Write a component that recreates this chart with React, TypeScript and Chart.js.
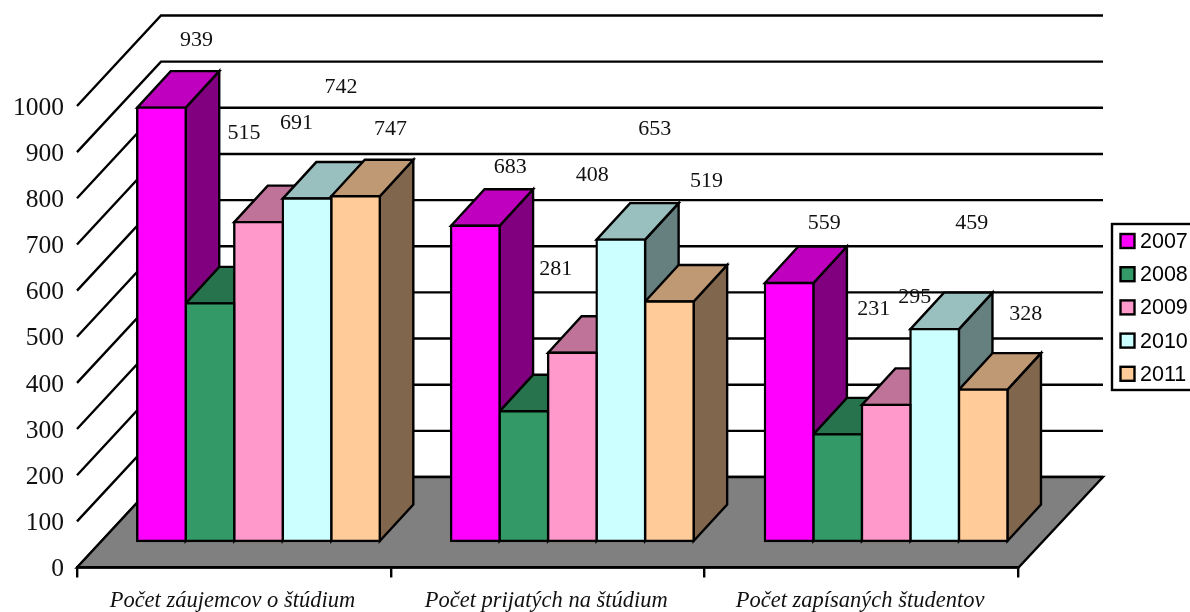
import React, { useEffect, useRef } from "react";
import { Chart, registerables } from "chart.js";

Chart.register(...registerables);

const categories = [
  "Počet záujemcov o štúdium",
  "Počet prijatých na štúdium",
  "Počet zapísaných študentov",
];
const years = ["2007", "2008", "2009", "2010", "2011"];
const values2007 = [939, 683, 559];
const values2008 = [515, 281, 231];
const values2009 = [691, 408, 295];
const values2010 = [742, 653, 459];
const values2011 = [747, 519, 328];
const seriesValues = [values2007, values2008, values2009, values2010, values2011];
const seriesColors = ["#FF00FF", "#339966", "#FF99CC", "#CCFFFF", "#FFCC99"];

// Hand-placed value labels of the original: offset from the bar's top centre, per series / category.
const labelOffsets = [
  [[35, -67.5], [35, -58.5], [35, -59.5]],
  [[34, -170.5], [32, -142.5], [36, -125.5]],
  [[38, -98.5], [20, -177.5], [28.5, -107.5]],
  [[34, -111.5], [34, -110.5], [37, -105.5]],
  [[35, -67.5], [37, -120.5], [42.5, -75.5]],
];

const SERIF = '"Liberation Serif", serif';
const LINE = 2.4;
const WALL_DX = 84;
const WALL_DY = 90.5;
const BAR_SHIFT_X = 24.6;
const BAR_SHIFT_Y = 26.5;
const BAR_DX = 33.5;
const BAR_DY = 36.5;
const WALL_RIGHT = 1103;

function shade(hex: string, f: number) {
  const n = parseInt(hex.slice(1), 16);
  const c = [(n >> 16) & 255, (n >> 8) & 255, n & 255].map((v) => Math.round(v * f));
  return `rgb(${c[0]},${c[1]},${c[2]})`;
}

function poly(ctx: CanvasRenderingContext2D, pts: number[][], fill?: string) {
  ctx.beginPath();
  pts.forEach((p, i) => (i ? ctx.lineTo(p[0], p[1]) : ctx.moveTo(p[0], p[1])));
  ctx.closePath();
  if (fill) {
    ctx.fillStyle = fill;
    ctx.fill();
  }
  ctx.stroke();
}

const box3d = {
  id: "box3d",
  beforeDraw(chart: any) {
    const { ctx, chartArea, scales } = chart;
    const yS = scales.y;
    const L = chartArea.left;
    const R = chartArea.right;
    const B = yS.getPixelForValue(0);
    ctx.save();
    ctx.strokeStyle = "#000";
    ctx.lineWidth = LINE;
    ctx.lineJoin = "miter";
    yS.ticks.forEach((t: any) => {
      const y = yS.getPixelForValue(t.value);
      ctx.beginPath();
      ctx.moveTo(L, y);
      ctx.lineTo(L + WALL_DX, y - WALL_DY);
      ctx.lineTo(WALL_RIGHT, y - WALL_DY);
      ctx.stroke();
    });
    poly(ctx, [
      [L, B],
      [L + WALL_DX, B - WALL_DY],
      [WALL_RIGHT, B - WALL_DY],
      [R, B],
    ], "#808080");
    ctx.restore();
  },
  beforeDatasetsDraw(chart: any) {
    const { ctx } = chart;
    ctx.save();
    ctx.translate(BAR_SHIFT_X, -BAR_SHIFT_Y);
    ctx.strokeStyle = "#000";
    ctx.lineWidth = LINE;
    ctx.lineJoin = "miter";
    for (let c = 0; c < categories.length; c++) {
      for (let s = 0; s < years.length; s++) {
        const bar = chart.getDatasetMeta(s).data[c];
        const color = seriesColors[s];
        const l = bar.x - bar.width / 2;
        const r = bar.x + bar.width / 2;
        const t = bar.y;
        const b = bar.base;
        poly(ctx, [
          [r, b],
          [r + BAR_DX, b - BAR_DY],
          [r + BAR_DX, t - BAR_DY],
          [r, t],
        ], shade(color, 0.5));
        poly(ctx, [
          [l, t],
          [l + BAR_DX, t - BAR_DY],
          [r + BAR_DX, t - BAR_DY],
          [r, t],
        ], shade(color, 0.75));
      }
    }
    // the library's own bars (front faces) are drawn inside this translation
  },
  afterDatasetsDraw(chart: any) {
    const { ctx } = chart;
    ctx.restore();
    ctx.save();
    ctx.fillStyle = "#111";
    ctx.font = `22px ${SERIF}`;
    ctx.textAlign = "center";
    ctx.textBaseline = "middle";
    for (let s = 0; s < years.length; s++) {
      const meta = chart.getDatasetMeta(s);
      for (let c = 0; c < categories.length; c++) {
        const bar = meta.data[c];
        const [ox, oy] = labelOffsets[s][c];
        ctx.fillText(
          String(seriesValues[s][c]),
          bar.x + BAR_SHIFT_X + ox,
          bar.y - BAR_SHIFT_Y + oy
        );
      }
    }
    ctx.restore();
  },
  afterDraw(chart: any) {
    const { ctx } = chart;
    ctx.save();
    ctx.strokeStyle = "#000";
    ctx.lineWidth = LINE;
    ctx.fillStyle = "#fff";
    ctx.fillRect(1112, 224, 90, 166);
    ctx.strokeRect(1112, 224, 90, 166);
    ctx.font = '21.5px "Liberation Sans", sans-serif';
    ctx.textAlign = "left";
    ctx.textBaseline = "middle";
    chart.data.datasets.forEach((d: any, i: number) => {
      const cy = 241 + i * 33.2;
      ctx.fillStyle = d.backgroundColor;
      ctx.fillRect(1120.5, cy - 7, 14, 14);
      ctx.strokeRect(1120.5, cy - 7, 14, 14);
      ctx.fillStyle = "#000";
      ctx.fillText(d.label, 1140, cy + 1);
    });
    ctx.restore();
  },
};

export default function App() {
  const ref = useRef<HTMLCanvasElement>(null);
  useEffect(() => {
    const chart = new Chart(ref.current as HTMLCanvasElement, {
      type: "bar",
      data: {
        labels: categories,
        datasets: years.map((y, i) => ({
          label: y,
          data: seriesValues[i],
          backgroundColor: seriesColors[i],
          borderColor: "#000",
          borderWidth: LINE,
          borderSkipped: false,
          inflateAmount: LINE / 2,
          clip: false,
        })) as any,
      },
      options: {
        responsive: false,
        animation: false,
        devicePixelRatio: 1,
        layout: { padding: { left: 0, top: 106, right: 171.5, bottom: 0 } },
        datasets: { bar: { categoryPercentage: 0.773, barPercentage: 1 } },
        plugins: { legend: { display: false }, tooltip: { enabled: false } },
        scales: {
          x: {
            afterFit: (s: any) => {
              s.height = 44.5;
            },
            border: { display: true, color: "#000", width: LINE },
            grid: { display: true, drawOnChartArea: false, drawTicks: true, tickLength: 10, color: "#000", lineWidth: LINE },
            ticks: {
              color: "#111",
              padding: 10,
              labelOffset: -1.5,
              maxRotation: 0,
              autoSkip: false,
              font: { family: "Liberation Serif", size: 22.5, style: "italic" },
            },
          },
          y: {
            min: 0,
            max: 1000,
            afterFit: (s: any) => {
              s.width = 77;
            },
            border: { display: false },
            grid: { display: false, drawTicks: false },
            ticks: {
              stepSize: 100,
              color: "#111",
              padding: 13,
              labelOffset: 2,
              callback: (v: any) => String(v),
              font: { family: "Liberation Serif", size: 25.5 },
            },
          },
        },
      },
      plugins: [box3d],
    } as any);
    return () => chart.destroy();
  }, []);
  return (
    <div style={{ position: "fixed", left: 0, top: 0, width: 1190, height: 612, background: "#fff" }}>
      <canvas ref={ref} width={1190} height={612} style={{ display: "block" }} />
    </div>
  );
}
